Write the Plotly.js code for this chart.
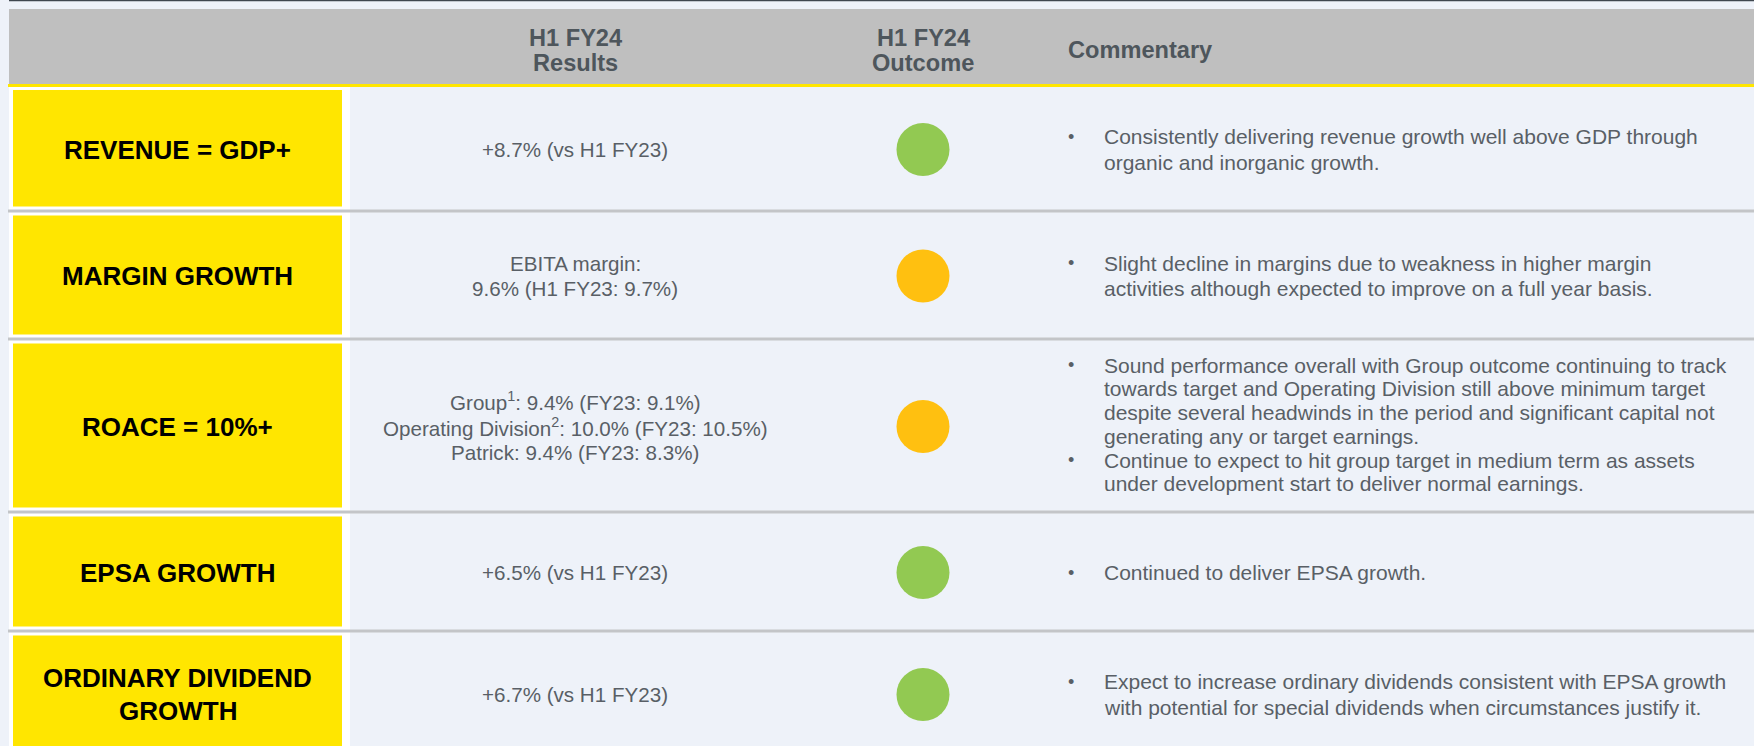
<!DOCTYPE html>
<html><head><meta charset="utf-8">
<script src="https://cdn.plot.ly/plotly-3.0.1.min.js"></script>
<style>html,body{margin:0;padding:0;background:#EEF2F9;overflow:hidden}</style>
</head><body><div id="chart" style="width:1754px;height:746px"></div>
<script>
// ---------- DATA ----------
const headerResults = ["H1 FY24", "Results"];
const headerOutcome = ["H1 FY24", "Outcome"];
const headerCommentary = "Commentary";
const metrics = [["REVENUE = GDP+"], ["MARGIN GROWTH"], ["ROACE = 10%+"], ["EPSA GROWTH"], ["ORDINARY DIVIDEND", "GROWTH"]];
const results = [
  ["+8.7% (vs H1 FY23)"],
  ["EBITA margin:", "9.6% (H1 FY23: 9.7%)"],
  ["Group<sup>1</sup>: 9.4% (FY23: 9.1%)", "Operating Division<sup>2</sup>: 10.0% (FY23: 10.5%)", "Patrick: 9.4% (FY23: 8.3%)"],
  ["+6.5% (vs H1 FY23)"],
  ["+6.7% (vs H1 FY23)"]
];
const outcomeStatus = ["green", "amber", "amber", "green", "green"];
const commentary = [
  [["Consistently delivering revenue growth well above GDP through", "organic and inorganic growth."]],
  [["Slight decline in margins due to weakness in higher margin", "activities although expected to improve on a full year basis."]],
  [["Sound performance overall with Group outcome continuing to track", "towards target and Operating Division still above minimum target", "despite several headwinds in the period and significant capital not", "generating any or target earnings."],
   ["Continue to expect to hit group target in medium term as assets", "under development start to deliver normal earnings."]],
  [["Continued to deliver EPSA growth."]],
  [["Expect to increase ordinary dividends consistent with EPSA growth", "with potential for special dividends when circumstances justify it."]]
];

// ---------- STYLE / LAYOUT CONSTANTS ----------
const W = 1754, H = 746;
const BG = "#EEF2F9", HEADER_BG = "#BFBFBF", YELLOW = "#FFE600", SEP = "#C3C5C8";
const HEADER_TXT = "#4E565C", BODY_TXT = "#595F66";
const statusColor = {green: "#92C952", amber: "#FFC010"};
const FONT = "Liberation Sans, Arial, sans-serif";
const tableTop = 86;
const rowHeights = [125, 128, 173, 119, 125];
const commentPitch = [25.5, 25.5, 23.7, 25.5, 25.5];
const commentShift = [0, 0, -2, 0, 0];
const colResults = 575, colOutcome = 923, bulletX = 1071, commentX = 1102;
const labelLeft = 9, labelRight = 350, yellowLeft = 13, yellowRight = 342;

const bounds = [tableTop];
rowHeights.forEach(h => bounds.push(bounds[bounds.length - 1] + h));
const rowCenters = rowHeights.map((h, i) => bounds[i] + h / 2 + 1);

const shapes = [];
const annotations = [];
function rect(x0, y0, x1, y1, color) {
  shapes.push({type: "rect", xref: "x", yref: "y", x0, y0, x1, y1, fillcolor: color, line: {width: 0}, layer: "below"});
}
function line(x0, y0, x1, y1, color, w) {
  shapes.push({type: "line", xref: "x", yref: "y", x0, y0, x1, y1, line: {color, width: w}, layer: "below"});
}
function text(t, x, y, size, color, bold, anchor) {
  annotations.push({text: bold ? "<b>" + t + "</b>" : t, x, y, xref: "x", yref: "y", showarrow: false,
    xanchor: anchor || "center", yanchor: "middle", font: {family: FONT, size, color}});
}

// top rule, header band, yellow rule
line(9, 0.5, W, 0.5, "#3F474F", 1.5);
rect(9, 9, W, 84, HEADER_BG);
rect(8, 84, W, 87, YELLOW);

// header texts
headerResults.forEach((t, i) => text(t, colResults, 37.5 + i * 25, 23.6, HEADER_TXT, true));
headerOutcome.forEach((t, i) => text(t, colOutcome, 37.5 + i * 25, 23.6, HEADER_TXT, true));
text(headerCommentary, 1066, 49.5, 23.6, HEADER_TXT, true, "left");

// rows
metrics.forEach((m, i) => {
  const top = bounds[i], bot = bounds[i + 1], c = rowCenters[i];
  rect(labelLeft, i === 0 ? 87 : top, labelRight, bot, "#FFFFFF");
  rect(yellowLeft, (i === 0 ? 87 : top + 1.5) + 3, yellowRight, bot - 1.5 - 3, YELLOW);
  // label
  m.forEach((t, k) => text(t, (yellowLeft + yellowRight) / 2, c + (k - (m.length - 1) / 2) * 33, 26, "#000000", true));
  // results
  const r = results[i];
  r.forEach((t, k) => text(t, colResults, c + (k - (r.length - 1) / 2) * 25.5, 20.6, BODY_TXT, false));
  // commentary
  const bullets = commentary[i];
  const n = bullets.reduce((s, b) => s + b.length, 0);
  let k = 0;
  bullets.forEach(b => {
    b.forEach((t, j) => {
      const y = c + commentShift[i] + (k - (n - 1) / 2) * commentPitch[i];
      if (j === 0) text("•", bulletX, y, 18, BODY_TXT, false);
      text(t, commentX, y, 21, BODY_TXT, false, "left");
      k++;
    });
  });
});
// separators
for (let i = 1; i < bounds.length - 1; i++) line(8, bounds[i], W, bounds[i], SEP, 3);

// outcome circles (marks)
const trace = {
  type: "scatter", mode: "markers",
  x: outcomeStatus.map(() => colOutcome),
  y: rowCenters,
  marker: {size: 53, color: outcomeStatus.map(s => statusColor[s]), line: {width: 0}},
  hoverinfo: "skip", showlegend: false
};

const layout = {
  width: W, height: H, margin: {l: 0, r: 0, t: 0, b: 0, pad: 0},
  paper_bgcolor: BG, plot_bgcolor: "rgba(0,0,0,0)",
  xaxis: {range: [0, W], visible: false, fixedrange: true},
  yaxis: {range: [H, 0], visible: false, fixedrange: true},
  shapes, annotations, showlegend: false
};
Plotly.newPlot("chart", [trace], layout, {displayModeBar: false, staticPlot: true});
</script></body></html>
